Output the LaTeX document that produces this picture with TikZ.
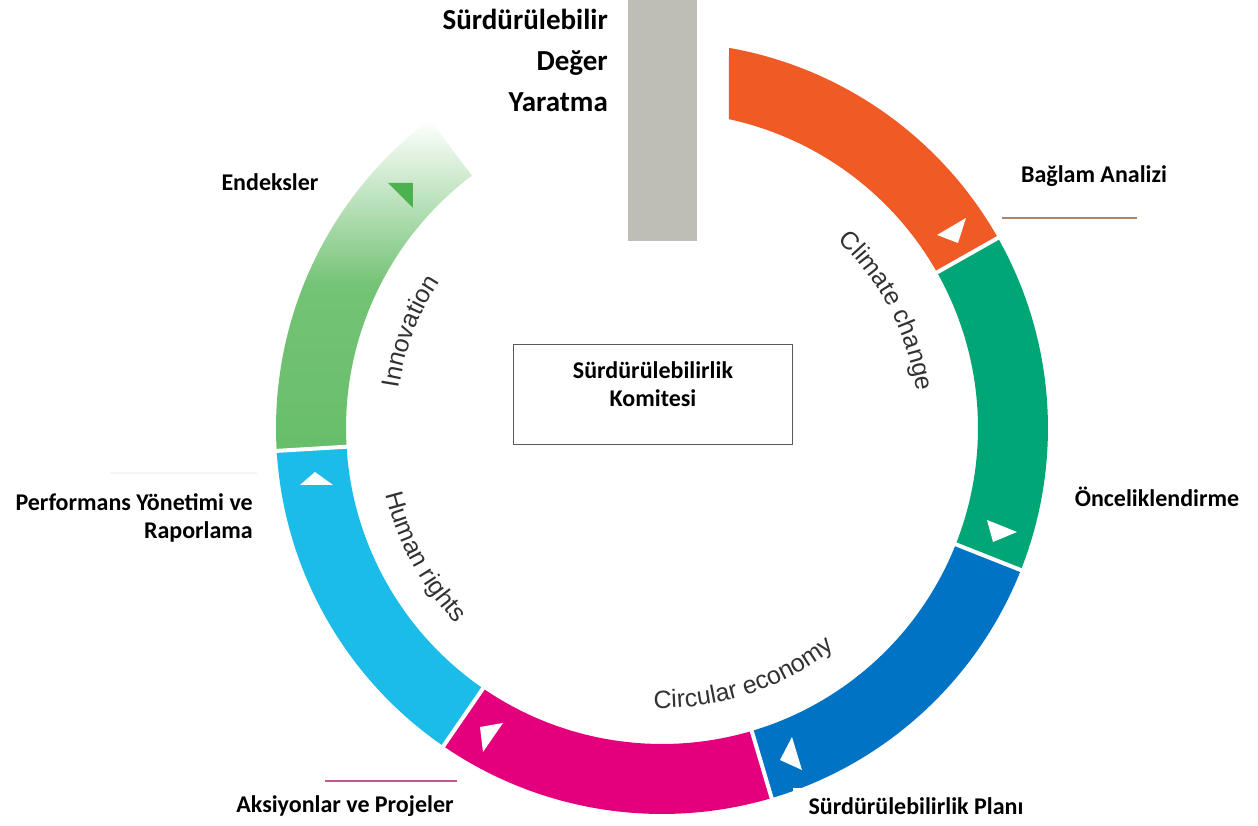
\documentclass[tikz,border=0pt]{standalone}
\usepackage{fontspec}
\setmainfont{Carlito}
\newfontfamily\ringfont{Liberation Sans}
\usetikzlibrary{decorations.text}

\definecolor{ccorange}{RGB}{240,90,36}
\definecolor{ccgreen}{RGB}{0,166,118}
\definecolor{ccblue}{RGB}{0,115,196}
\definecolor{ccmagenta}{RGB}{228,0,124}
\definecolor{cccyan}{RGB}{27,188,232}
\definecolor{ccinnov}{RGB}{104,190,106}
\definecolor{ccinnovdark}{RGB}{76,178,80}
\definecolor{bargray}{RGB}{190,190,183}
\definecolor{tanline}{RGB}{176,132,98}
\definecolor{pinkline}{RGB}{196,84,150}
\definecolor{ringgray}{RGB}{50,50,50}
\definecolor{boxgray}{RGB}{90,90,90}

\tikzset{
	lbl/.style={font=\bfseries\fontsize{24}{28}\selectfont, inner sep=2pt},
	gap/.style={white, line width=4pt},
	ringtext/.style={decorate, decoration={text along path, text align=center,
		text color=ringgray, text={|\ringfont\fontsize{25}{29}\selectfont|#1}}}
}

\begin{document}
\begin{tikzpicture}[x=1pt, y=1pt]

	\useasboundingbox (-662,-398) rectangle (596,428);

	\def\Ro{386}
	\def\Ri{316}

	% grey bar at the top
	\fill[bargray] (-34,428) rectangle (35,187);

	% ring segments
	\fill[ccorange] (80:\Ro) arc (80:29.5:\Ro) -- (29.5:\Ri) arc (29.5:77.8:\Ri) -- cycle;
	\fill[ccgreen] (29.5:\Ro) arc (29.5:-21.6:\Ro) -- (-21.6:\Ri) arc (-21.6:29.5:\Ri) -- cycle;
	\fill[ccblue] (-21.6:\Ro) arc (-21.6:-73.5:\Ro) -- (-73.5:\Ri) arc (-73.5:-21.6:\Ri) -- cycle;
	\fill[ccmagenta] (-73.5:\Ro) arc (-73.5:-124.5:\Ro) -- (-124.5:\Ri) arc (-124.5:-73.5:\Ri) -- cycle;
	\fill[cccyan] (-124.5:\Ro) arc (-124.5:-176.6:\Ro) -- (-176.6:\Ri) arc (-176.6:-124.5:\Ri) -- cycle;
	\path[top color=white, bottom color=ccinnov, middle color=ccinnov!92]
		(183.4:\Ro) arc (183.4:127:\Ro) -- (127:\Ri) arc (127:183.4:\Ri) -- cycle;

	% white gaps
	\draw[gap] (29.5:\Ri-6) -- (29.5:\Ro+6);
	\draw[gap] (-21.6:\Ri-6) -- (-21.6:\Ro+6);
	\draw[gap] (-73.5:\Ri-6) -- (-73.5:\Ro+6);
	\draw[gap] (-124.5:\Ri-6) -- (-124.5:\Ro+6);
	\draw[gap] (183.4:\Ri-6) -- (183.4:\Ro+6);

	% arrow marks
	\fill[white] (275,193) -- (304,210) -- (296,185) -- cycle;
	\fill[white] (325,-92) -- (355,-104) -- (331,-114) -- cycle;
	\fill[white] (130,-309) -- (140,-342) -- (118,-332) -- cycle;
	\fill[white] (-182,-299) -- (-159,-295) -- (-179,-324) -- cycle;
	\fill[white] (-362,-57) -- (-347,-44) -- (-329,-57) -- cycle;
	\fill[ccinnovdark] (-274,245) -- (-249,245) -- (-249,220) -- cycle;

	% texts inside the ring
	\path[ringtext={Climate change}] (57.5:257) arc (57.5:-2.5:257);
	\path[ringtext={Innovation}] (189:266) arc (189:129:266);
	\path[ringtext={Human rights}] (178.5:284) arc (178.5:238.5:284);
	\path[ringtext={Circular economy}] (258.2:280) arc (258.2:318.2:280);

	% centre box
	\node (komite) [draw=boxgray, line width=1pt, minimum width=278pt, minimum height=100pt] at (-9,33) {};
	\node (komitetext) [lbl, align=center] at ([yshift=11pt]komite.center) {Sürdürülebilirlik\\Komitesi};

	% title
	\node (title) [lbl, font=\bfseries\fontsize{29}{41}\selectfont, align=right, anchor=east] at (-52,368) {Sürdürülebilir\\Değer\\Yaratma};

	% step labels
	\node (baglam) [lbl] at (432,252) {Bağlam Analizi};
	\node (oncelik) [lbl] at (495,-69) {Önceliklendirme};
	\node (plan) [lbl, fill=white, inner xsep=16pt, inner ysep=9pt] at (254,-378) {Sürdürülebilirlik Planı};
	\node (aksiyon) [lbl] at (-317,-378) {Aksiyonlar ve Projeler};
	\node (perform) [lbl, align=right, anchor=east] at (-407,-90) {Performans Yönetimi ve\\Raporlama};
	\node (endeks) [lbl, fill=white] at (-392,246) {Endeksler};

	% small lines by the labels
	\draw[tanline, line width=1.5pt] (340,210) -- (475,210);
	\draw[pinkline, line width=1.5pt] (-337,-353) -- (-205,-353);
	\draw[gray!8, line width=1.5pt] (-552,-45) -- (-405,-45);

\end{tikzpicture}
\end{document}
